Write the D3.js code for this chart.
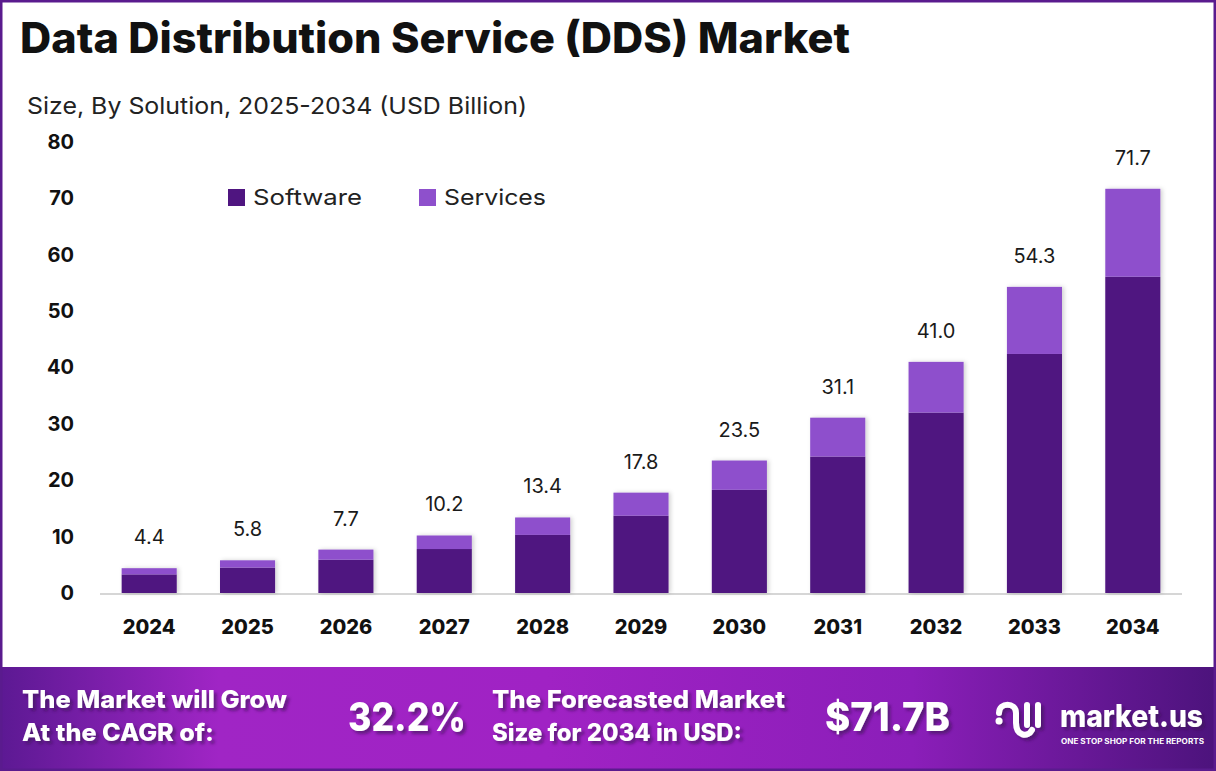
<!DOCTYPE html>
<html>
<head>
<meta charset="utf-8">
<script src="https://cdn.jsdelivr.net/npm/d3@7.9.0/dist/d3.min.js"></script>
<style>
  html, body { margin: 0; padding: 0; background: #fff; }
  svg { display: block; font-family: "Inter", "Noto Sans", sans-serif; }
</style>
</head>
<body>
<svg id="chart" width="1216" height="771"></svg>
<script>
// data
const years = ["2024", "2025", "2026", "2027", "2028", "2029", "2030", "2031", "2032", "2033", "2034"];
const software = [3.3, 4.5, 5.9, 7.8, 10.3, 13.7, 18.3, 24.2, 32.0, 42.4, 56.1];
const totals = [4.4, 5.8, 7.7, 10.2, 13.4, 17.8, 23.5, 31.1, 41.0, 54.3, 71.7];
const services = totals.map((t, i) => +(t - software[i]).toFixed(1));
const seriesNames = ["Software", "Services"];
const yTicks = [0, 10, 20, 30, 40, 50, 60, 70, 80];

const colors = { Software: "#4f1580", Services: "#8e50cc" };

const W = 1216, H = 771;
const svg = d3.select("#chart");

// stretch a text to the width it has in the reference
function fit(sel, width) {
  sel.attr("textLength", width).attr("lengthAdjust", "spacingAndGlyphs");
  return sel;
}

const defs = svg.append("defs");
const grad = defs.append("linearGradient").attr("id", "band").attr("x1", "0").attr("x2", "1");
[["0%", "#5c1993"], ["18%", "#a025c5"], ["45%", "#a022c4"], ["75%", "#8b1eb9"], ["100%", "#4c137c"]]
  .forEach(([o, c]) => grad.append("stop").attr("offset", o).attr("stop-color", c));

const shadow = defs.append("filter").attr("id", "tshadow").attr("x", "-10%").attr("y", "-20%").attr("width", "130%").attr("height", "150%");
shadow.append("feDropShadow").attr("dx", 3).attr("dy", 3).attr("stdDeviation", 1.5)
  .attr("flood-color", "#3a0a55").attr("flood-opacity", 0.6);

const barShadow = defs.append("filter").attr("id", "bshadow").attr("x", "-20%").attr("y", "-10%").attr("width", "140%").attr("height", "120%");
barShadow.append("feDropShadow").attr("dx", 2).attr("dy", 0).attr("stdDeviation", 2)
  .attr("flood-color", "#000").attr("flood-opacity", 0.18);

// title + subtitle
fit(svg.append("text").attr("x", 20).attr("y", 53)
  .attr("font-size", 42).attr("font-weight", 800).attr("fill", "#111")
  .text("Data Distribution Service (DDS) Market"), 830);

fit(svg.append("text").attr("x", 27).attr("y", 114)
  .attr("font-size", 23).attr("fill", "#222")
  .text("Size, By Solution, 2025-2034 (USD Billion)"), 500);

// scales
const x = d3.scaleBand().domain(years).range([100, 1182]).paddingInner(0.44).paddingOuter(0.22);
const y = d3.scaleLinear().domain([0, 80]).range([593, 142]);

// y tick labels
const yAxis = svg.append("g").attr("transform", "translate(74,0)")
  .call(d3.axisLeft(y).tickValues(yTicks).tickSize(0).tickPadding(0));
yAxis.select(".domain").remove();
yAxis.selectAll("text").attr("font-size", 20).attr("font-weight", 700).attr("fill", "#111")
  .attr("font-family", "Inter, sans-serif");

// baseline
svg.append("line").attr("x1", 100).attr("x2", 1182).attr("y1", y(0) + 1).attr("y2", y(0) + 1)
  .attr("stroke", "#d6d6d6").attr("stroke-width", 2);

// x axis labels
const xAxis = svg.append("g").attr("transform", `translate(0,${y(0) + 27})`)
  .call(d3.axisBottom(x).tickSize(0).tickPadding(0));
xAxis.select(".domain").remove();
xAxis.selectAll("text").attr("font-size", 20).attr("font-weight", 800).attr("fill", "#111")
  .attr("font-family", "Inter, sans-serif");

// stacked bars
const rows = years.map((yr, i) => ({ year: yr, Software: software[i], Services: services[i], total: totals[i] }));
const stacked = d3.stack().keys(seriesNames)(rows);

const barsG = svg.append("g").attr("filter", "url(#bshadow)");
barsG.selectAll("g.series").data(stacked).join("g")
  .attr("class", "series")
  .attr("fill", d => colors[d.key])
  .selectAll("rect").data(d => d).join("rect")
  .attr("x", d => x(d.data.year))
  .attr("width", x.bandwidth())
  .attr("y", d => y(d[1]))
  .attr("height", d => y(d[0]) - y(d[1]));

// total labels
svg.append("g").selectAll("text").data(rows).join("text")
  .attr("x", d => x(d.year) + x.bandwidth() / 2)
  .attr("y", d => y(d.total) - 24)
  .attr("text-anchor", "middle")
  .attr("font-size", 20).attr("fill", "#1a1a1a")
  .text(d => d.total.toFixed(1));

// legend
const legend = svg.append("g").attr("transform", "translate(228,189)");
const legX = [0, 191];
const legW = [109, 102];
seriesNames.forEach((name, i) => {
  const g = legend.append("g").attr("transform", `translate(${legX[i]},0)`);
  g.append("rect").attr("width", 17).attr("height", 17).attr("fill", colors[name]);
  fit(g.append("text").attr("x", 25).attr("y", 16).attr("font-size", 22).attr("fill", "#222").text(name), legW[i]);
});

// bottom banner
const bandY = 667;
svg.append("rect").attr("x", 0).attr("y", bandY).attr("width", W).attr("height", H - bandY).attr("fill", "url(#band)");

const banner = svg.append("g").attr("fill", "#fff").attr("font-weight", 800).attr("filter", "url(#tshadow)");
fit(banner.append("text").attr("x", 22).attr("y", 708).attr("font-size", 24).text("The Market will Grow"), 265);
fit(banner.append("text").attr("x", 22).attr("y", 741).attr("font-size", 24).text("At the CAGR of:"), 192);
fit(banner.append("text").attr("x", 348).attr("y", 731).attr("font-size", 39).text("32.2%"), 118);
fit(banner.append("text").attr("x", 492).attr("y", 708).attr("font-size", 24).text("The Forecasted Market"), 293);
fit(banner.append("text").attr("x", 492).attr("y", 741).attr("font-size", 24).text("Size for 2034 in USD:"), 250);
fit(banner.append("text").attr("x", 825).attr("y", 731).attr("font-size", 39).text("$71.7B"), 125);

// logo
const logo = svg.append("g").attr("transform", "translate(995,701)").attr("filter", "url(#tshadow)");
logo.append("circle").attr("cx", 4).attr("cy", 20).attr("r", 3.5).attr("fill", "#fff");
logo.append("path").attr("d", "M4,12 C4,1 21,1 21,12 L21,22 C21,35 33,37 37,29")
  .attr("fill", "none").attr("stroke", "#fff").attr("stroke-width", 6).attr("stroke-linecap", "round");
logo.append("path").attr("d", "M32,4 L32,24").attr("stroke", "#fff").attr("stroke-width", 6).attr("stroke-linecap", "round");
logo.append("path").attr("d", "M43,4 L43,24").attr("stroke", "#fff").attr("stroke-width", 6).attr("stroke-linecap", "round");
fit(svg.append("text").attr("x", 1060).attr("y", 727).attr("font-size", 31).attr("font-weight", 800)
  .attr("fill", "#fff").attr("filter", "url(#tshadow)").text("market.us"), 143);
fit(svg.append("text").attr("x", 1061).attr("y", 744).attr("font-size", 7).attr("font-weight", 700)
  .attr("fill", "#fff").text("ONE STOP SHOP FOR THE REPORTS"), 143);

// outer frame
svg.append("rect").attr("x", 1).attr("y", 1).attr("width", W - 2).attr("height", H - 2)
  .attr("fill", "none").attr("stroke", "#5a1b8e").attr("stroke-width", 3);
</script>
</body>
</html>
